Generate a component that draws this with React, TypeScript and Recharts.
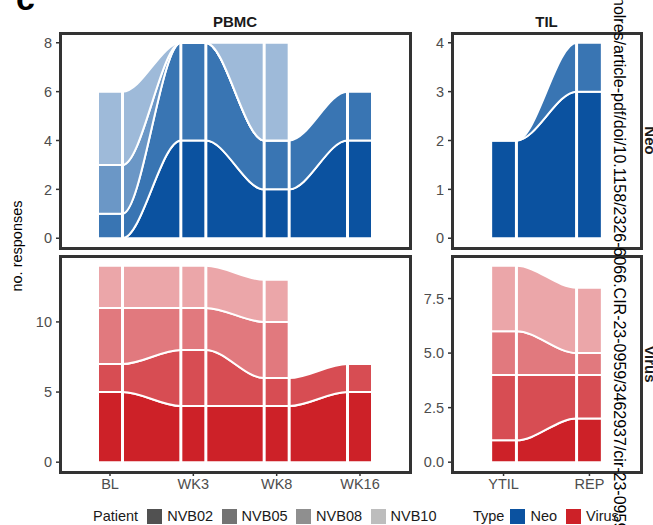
import React from "react";
import { AreaChart, Area, XAxis, YAxis, ReferenceLine } from "recharts";

const PATIENTS = ["NVB02", "NVB05", "NVB08", "NVB10"];
const PBMC_TIMES = ["BL", "WK3", "WK8", "WK16"];
const TIL_TIMES = ["YTIL", "REP"];

// no. responses per patient (rows follow PATIENTS), null = not sampled
const PBMC_NEO: (number | null)[][] = [
  [0, 4, 2, 4],
  [1, 4, 2, 2],
  [2, 0, 0, null],
  [3, 0, 4, null],
];
const PBMC_VIRUS: (number | null)[][] = [
  [5, 4, 4, 5],
  [2, 4, 2, 2],
  [4, 3, 4, null],
  [3, 3, 3, null],
];
const TIL_NEO: (number | null)[][] = [
  [2, 3],
  [0, 1],
  [null, null],
  [null, null],
];
const TIL_VIRUS: (number | null)[][] = [
  [1, 2],
  [3, 2],
  [2, 1],
  [3, 3],
];

const NEO_FILLS = ["#0b52a0", "#3975b3", "#6b97c6", "#9ebad9"];
const VIRUS_FILLS = ["#cd2128", "#d74d53", "#e1797e", "#eba6a9"];
const PATIENT_KEYS = ["#515151", "#737373", "#8f8f8f", "#bdbdbd"];

const HALF = 0.15; // half width of a stratum, in axis units
const FONT = "'Liberation Sans', Arial, sans-serif";

// two rows per timepoint (left and right edge of the stratum), values stacked as [low, high]
function buildRows(values: (number | null)[][]) {
  const n = values[0].length;
  const rows: any[] = [];
  for (let t = 0; t < n; t++) {
    for (const x of [t + 1 - HALF, t + 1 + HALF]) {
      const row: any = { x };
      let acc = 0;
      values.forEach((series, p) => {
        const v = series[t];
        if (v == null) {
          row[PATIENTS[p]] = null;
          return;
        }
        row[PATIENTS[p]] = [acc, acc + v];
        acc += v;
      });
      rows.push(row);
    }
  }
  return rows;
}

function Panel({ values, times, fills, yDomain, yTicks, fmt, left, top, width, height, yWidth, showX }: any) {
  const data = buildRows(values);
  const edges = data.map((d) => d.x);
  return (
    <div style={{ position: "absolute", left, top }}>
      <AreaChart width={width} height={height} data={data} margin={{ top: 0, right: 0, bottom: 0, left: 0 }}>
        <XAxis
          type="number"
          dataKey="x"
          domain={[0.4, times.length + 0.6]}
          ticks={times.map((_: string, i: number) => i + 1)}
          tickFormatter={(v) => times[v - 1]}
          hide={!showX}
          height={30}
          axisLine={false}
          tickSize={4}
          tickMargin={3}
          tick={{ fontSize: 14.5, fill: "#4d4d4d" }}
          tickLine={{ stroke: "#333", strokeWidth: 1.5 }}
          allowDataOverflow
        />
        <YAxis
          type="number"
          domain={yDomain}
          ticks={yTicks}
          tickFormatter={fmt}
          width={yWidth}
          axisLine={false}
          tickSize={4}
          tickMargin={4}
          tick={{ fontSize: 14.5, fill: "#4d4d4d" }}
          tickLine={{ stroke: "#333", strokeWidth: 1.5 }}
          allowDataOverflow
        />
        {PATIENTS.map((p, i) => (
          <Area
            key={p}
            dataKey={p}
            type="monotone"
            fill={fills[i]}
            fillOpacity={1}
            stroke="#fff"
            strokeWidth={2}
            dot={false}
            activeDot={false}
            connectNulls={false}
            isAnimationActive={false}
          />
        ))}
        {edges.map((x) => (
          <ReferenceLine key={x} x={x} stroke="#fff" strokeWidth={3} />
        ))}
      </AreaChart>
    </div>
  );
}

function Frame({ x0, y0, x1, y1 }: { x0: number; y0: number; x1: number; y1: number }) {
  return (
    <div
      style={{
        position: "absolute",
        left: x0 - 1.5,
        top: y0 - 1.5,
        width: x1 - x0 + 3,
        height: y1 - y0 + 3,
        border: "3px solid #333",
        boxSizing: "border-box",
      }}
    />
  );
}

function LegendKey({ color, label, gap }: { color: string; label: string; gap: number }) {
  return (
    <div style={{ display: "flex", alignItems: "center", marginRight: gap }}>
      <div style={{ width: 15, height: 15, background: color, marginRight: 5 }} />
      <span>{label}</span>
    </div>
  );
}

export default function App() {
  const fmt0 = (v: number) => String(v);
  const fmt1 = (v: number) => v.toFixed(1);
  return (
    <div
      style={{
        position: "absolute",
        left: 0,
        top: 0,
        width: 653,
        height: 525,
        overflow: "hidden",
        background: "#fff",
        fontFamily: FONT,
      }}
    >
      <Panel values={PBMC_NEO} times={PBMC_TIMES} fills={NEO_FILLS} yDomain={[-0.4, 8.4]} yTicks={[0, 2, 4, 6, 8]}
        fmt={fmt0} left={0} top={33} width={410} height={215} yWidth={60} showX={false} />
      <Panel values={PBMC_VIRUS} times={PBMC_TIMES} fills={VIRUS_FILLS} yDomain={[-0.7, 14.7]} yTicks={[0, 5, 10]}
        fmt={fmt0} left={0} top={256} width={410} height={246} yWidth={60} showX />
      <Panel values={TIL_NEO} times={TIL_TIMES} fills={NEO_FILLS} yDomain={[-0.2, 4.2]} yTicks={[0, 1, 2, 3, 4]}
        fmt={fmt0} left={412} top={33} width={229} height={215} yWidth={40} showX={false} />
      <Panel values={TIL_VIRUS} times={TIL_TIMES} fills={VIRUS_FILLS} yDomain={[-0.45, 9.45]} yTicks={[0, 2.5, 5, 7.5]}
        fmt={fmt1} left={412} top={256} width={229} height={246} yWidth={40} showX />

      <Frame x0={60} y0={33} x1={410} y1={248} />
      <Frame x0={60} y0={256} x1={410} y1={472} />
      <Frame x0={452} y0={33} x1={641} y1={248} />
      <Frame x0={452} y0={256} x1={641} y1={472} />

      <div style={{ position: "absolute", left: 93, top: 508, display: "flex", alignItems: "center", fontSize: 14.5, color: "#1a1a1a" }}>
        <span style={{ marginRight: 9 }}>Patient</span>
        {PATIENTS.map((p, i) => (
          <LegendKey key={p} color={PATIENT_KEYS[i]} label={p} gap={8.5} />
        ))}
      </div>
      <div style={{ position: "absolute", left: 473, top: 508, display: "flex", alignItems: "center", fontSize: 14.5, color: "#1a1a1a" }}>
        <span style={{ marginRight: 6 }}>Type</span>
        <LegendKey color={NEO_FILLS[0]} label="Neo" gap={9} />
        <LegendKey color={VIRUS_FILLS[0]} label="Virus" gap={0} />
      </div>

      <svg width={653} height={525} style={{ position: "absolute", left: 0, top: 0, pointerEvents: "none" }}>
        <text x={16} y={10} fontSize={34} fontWeight="bold" fill="#000">c</text>
        <text x={235} y={27} fontSize={15} fontWeight="bold" fill="#1a1a1a" textAnchor="middle">PBMC</text>
        <text x={546.5} y={27} fontSize={15} fontWeight="bold" fill="#1a1a1a" textAnchor="middle">TIL</text>
        <text x={645} y={140.5} fontSize={15} fontWeight="bold" fill="#1a1a1a" textAnchor="middle" transform="rotate(90 645 140.5)">Neo</text>
        <text x={645} y={364} fontSize={15} fontWeight="bold" fill="#1a1a1a" textAnchor="middle" transform="rotate(90 645 364)">Virus</text>
        <text x={22} y={246} fontSize={14.5} fill="#000" textAnchor="middle" transform="rotate(-90 22 246)">no. responses</text>
        <text x={613.5} y={-3} fontSize={16} fill="#000" transform="rotate(90 613.5 -3)">
          nolres/article-pdf/doi/10.1158/2326-6066.CIR-23-0959/3462937/cir-23-0959.pdf
        </text>
      </svg>
    </div>
  );
}
